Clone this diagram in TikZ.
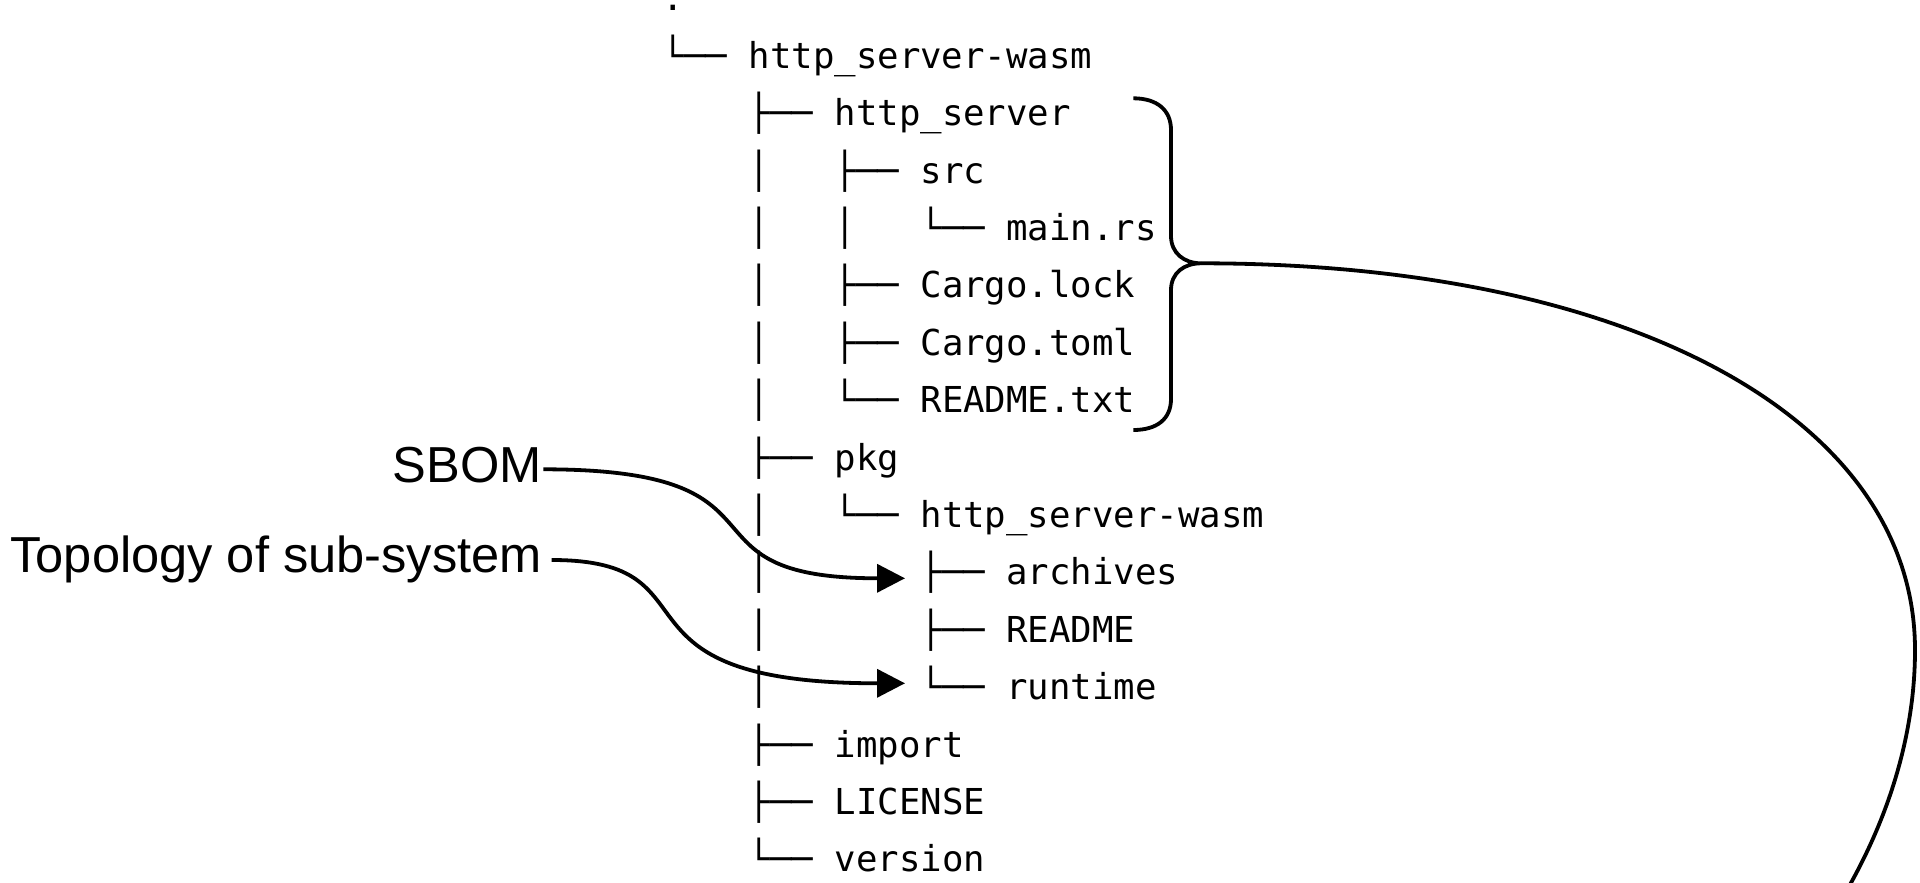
\documentclass[tikz,border=0pt]{standalone}
\usepackage{fontspec}
\usetikzlibrary{arrows.meta}
\newfontfamily\treefont{DejaVu Sans Mono}
\newfontfamily\notefont{Liberation Sans}

\begin{document}
\begin{tikzpicture}[x=1pt,y=-1pt,
  treeline/.style={anchor=base west, inner sep=0pt, outer sep=0pt,
    font=\treefont\fontsize{35.7pt}{40pt}\selectfont},
  sidenote/.style={anchor=base east, inner sep=0pt, outer sep=0pt,
    font=\notefont\fontsize{50.6pt}{60pt}\selectfont},
  wire/.style={line width=3.8pt},
  link/.style={wire, -{Triangle[length=28pt,width=28pt]}},
]
\useasboundingbox (0,0) rectangle (1920,883);
\clip (0,0) rectangle (1920,883);

% directory listing, one node per line
\node[treeline] (root)      at (662.6, 10.9) {.};
\node[treeline] (wasm)      at (662.6, 68.3) {└──~http\_server-wasm};
\node[treeline] (httpsrv)   at (662.6,125.7) {~~~~├──~http\_server};
\node[treeline] (src)       at (662.6,183.1) {~~~~│~~~├──~src};
\node[treeline] (mainrs)    at (662.6,240.5) {~~~~│~~~│~~~└──~main.rs};
\node[treeline] (cargolock) at (662.6,297.9) {~~~~│~~~├──~Cargo.lock};
\node[treeline] (cargotoml) at (662.6,355.3) {~~~~│~~~├──~Cargo.toml};
\node[treeline] (readmetxt) at (662.6,412.7) {~~~~│~~~└──~README.txt};
\node[treeline] (pkg)       at (662.6,470.1) {~~~~├──~pkg};
\node[treeline] (pkgwasm)   at (662.6,527.5) {~~~~│~~~└──~http\_server-wasm};
\node[treeline] (archives)  at (662.6,584.9) {~~~~│~~~~~~~├──~archives};
\node[treeline] (readme)    at (662.6,642.3) {~~~~│~~~~~~~├──~README};
\node[treeline] (runtime)   at (662.6,699.7) {~~~~│~~~~~~~└──~runtime};
\node[treeline] (import)    at (662.6,757.1) {~~~~├──~import};
\node[treeline] (license)   at (662.6,814.5) {~~~~├──~LICENSE};
\node[treeline] (version)   at (662.6,871.9) {~~~~└──~version};

% annotations on the left
\node[sidenote] (sbom) at (542,482.7) {SBOM};
\node[sidenote] (topo) at (542,572.7) {Topology of sub-system};

\coordinate (sbomStart) at ([xshift=1.3pt,yshift=13.4pt]sbom.base east);
\coordinate (sbomTip)   at ([xshift=242.4pt,yshift=6.6pt]archives.base west);
\coordinate (topoStart) at ([xshift=9.7pt,yshift=12.7pt]topo.base east);
\coordinate (topoTip)   at ([xshift=242.4pt,yshift=16.4pt]runtime.base west);

\draw[link] (sbomStart) .. controls (808,469.3) and (665,578.3) .. (sbomTip);
\draw[link] (topoStart) .. controls (725,560) and (594,683.3) .. (topoTip);

% brace around the http_server sub-tree
\coordinate (braceTip) at (1201,263.3);
\coordinate (braceBot) at (1133.3,430);
\draw[wire] (1133.3,98.3) .. controls (1157,98.3) and (1171,110) .. (1171,130)
  -- (1171,236) .. controls (1171,253) and (1184,263.3) .. (braceTip)
  .. controls (1184,263.3) and (1171,273) .. (1171,290)
  -- (1171,399) .. controls (1171,419) and (1157,430) .. (braceBot);

% long connector leaving the brace
\draw[wire] (braceTip) .. controls (1630,263.3) and (1915,418) .. (1915,650)
  .. controls (1915,740) and (1885,830) .. (1835,910);
\end{tikzpicture}
\end{document}
